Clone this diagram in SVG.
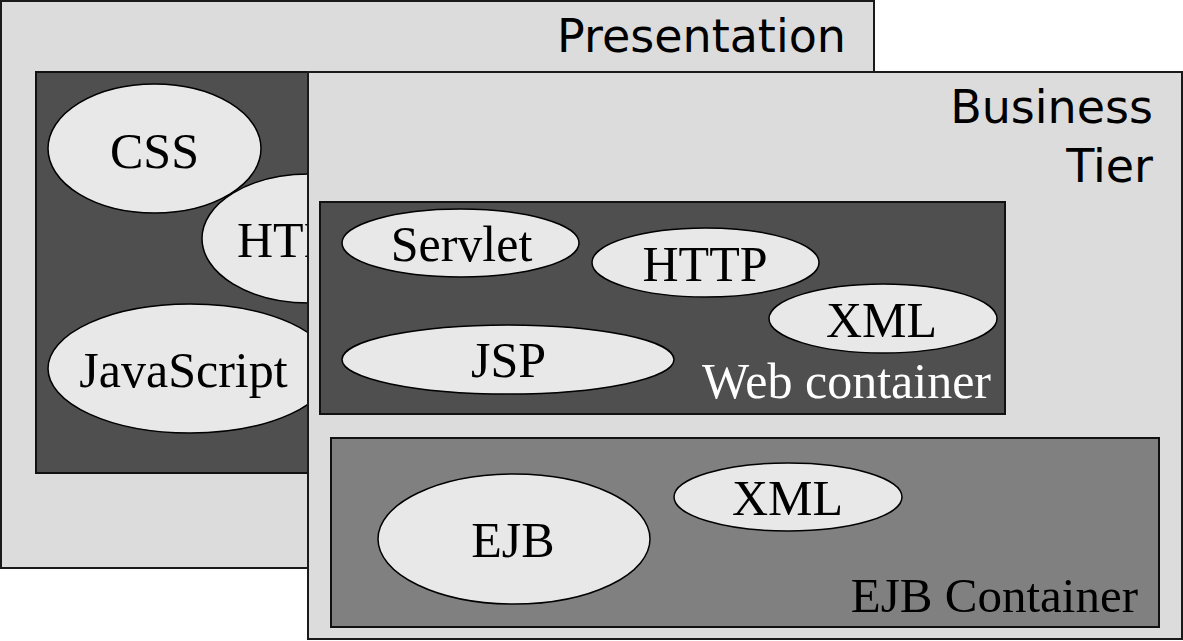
<svg xmlns="http://www.w3.org/2000/svg" width="1183" height="641" viewBox="0 0 1183 641">
<style>
.tier{fill:#dcdcdc;stroke:#1a1a1a;stroke-width:2}
.dark{fill:#4f4f4f;stroke:#111;stroke-width:2}
.mid{fill:#808080;stroke:#111;stroke-width:2}
.node{fill:#e8e8e8;stroke:#000;stroke-width:1.5}
.lbl{font-family:"Liberation Serif","Times New Roman",serif;font-size:50px;fill:#000;text-anchor:middle}
.title{font-family:"DejaVu Sans","Open Sans",sans-serif;font-size:46px;fill:#000;text-anchor:end}
</style>
<rect width="1183" height="641" fill="#fff"/>
<g id="presentation">
<rect class="tier" x="1" y="1" width="873" height="567"/>
<text class="title" x="846" y="52">Presentation</text>
<rect id="presentation-inner" class="dark" x="36" y="72" width="392" height="401"/>
<g id="css"><ellipse class="node" cx="154.5" cy="148.5" rx="106.5" ry="64.5"/><text class="lbl" x="154.5" y="168">CSS</text></g>
<g id="html"><ellipse class="node" cx="309" cy="238.5" rx="107" ry="64.5"/><text class="lbl" x="237" y="257" style="text-anchor:start">HTML</text></g>
<g id="javascript"><ellipse class="node" cx="190" cy="368.5" rx="142" ry="64.5"/><text class="lbl" x="183.5" y="387">JavaScript</text></g>
</g>
<g id="business">
<rect class="tier" x="308" y="72" width="874" height="567"/>
<text class="title"><tspan x="1153" y="123">Business</tspan><tspan x="1153" y="182">Tier</tspan></text>
</g>
<g id="web-container">
<rect class="dark" x="320" y="202" width="685" height="212"/>
<g id="servlet"><ellipse class="node" cx="460.5" cy="243" rx="118.5" ry="34"/><text class="lbl" x="461.5" y="261">Servlet</text></g>
<g id="http"><ellipse class="node" cx="705.5" cy="262.5" rx="113.5" ry="34.5"/><text class="lbl" x="705" y="281">HTTP</text></g>
<g id="xml-web"><ellipse class="node" cx="883" cy="318.5" rx="114" ry="34.5"/><text class="lbl" x="881.5" y="337">XML</text></g>
<g id="jsp"><ellipse class="node" cx="508" cy="359.5" rx="166" ry="34.5"/><text class="lbl" x="508.5" y="377">JSP</text></g>
<text class="lbl" x="991" y="398" style="text-anchor:end;fill:#fff">Web container</text>
</g>
<g id="ejb-container">
<rect class="mid" x="331" y="438" width="828" height="189"/>
<g id="ejb"><ellipse class="node" cx="514" cy="539" rx="136" ry="65"/><text class="lbl" x="513" y="557">EJB</text></g>
<g id="xml-ejb"><ellipse class="node" cx="788" cy="497" rx="114" ry="34"/><text class="lbl" x="787.5" y="515">XML</text></g>
<text class="lbl" x="1138" y="612" style="text-anchor:end;font-size:49px">EJB Container</text>
</g>
<g id="connectors"/>
</svg>
